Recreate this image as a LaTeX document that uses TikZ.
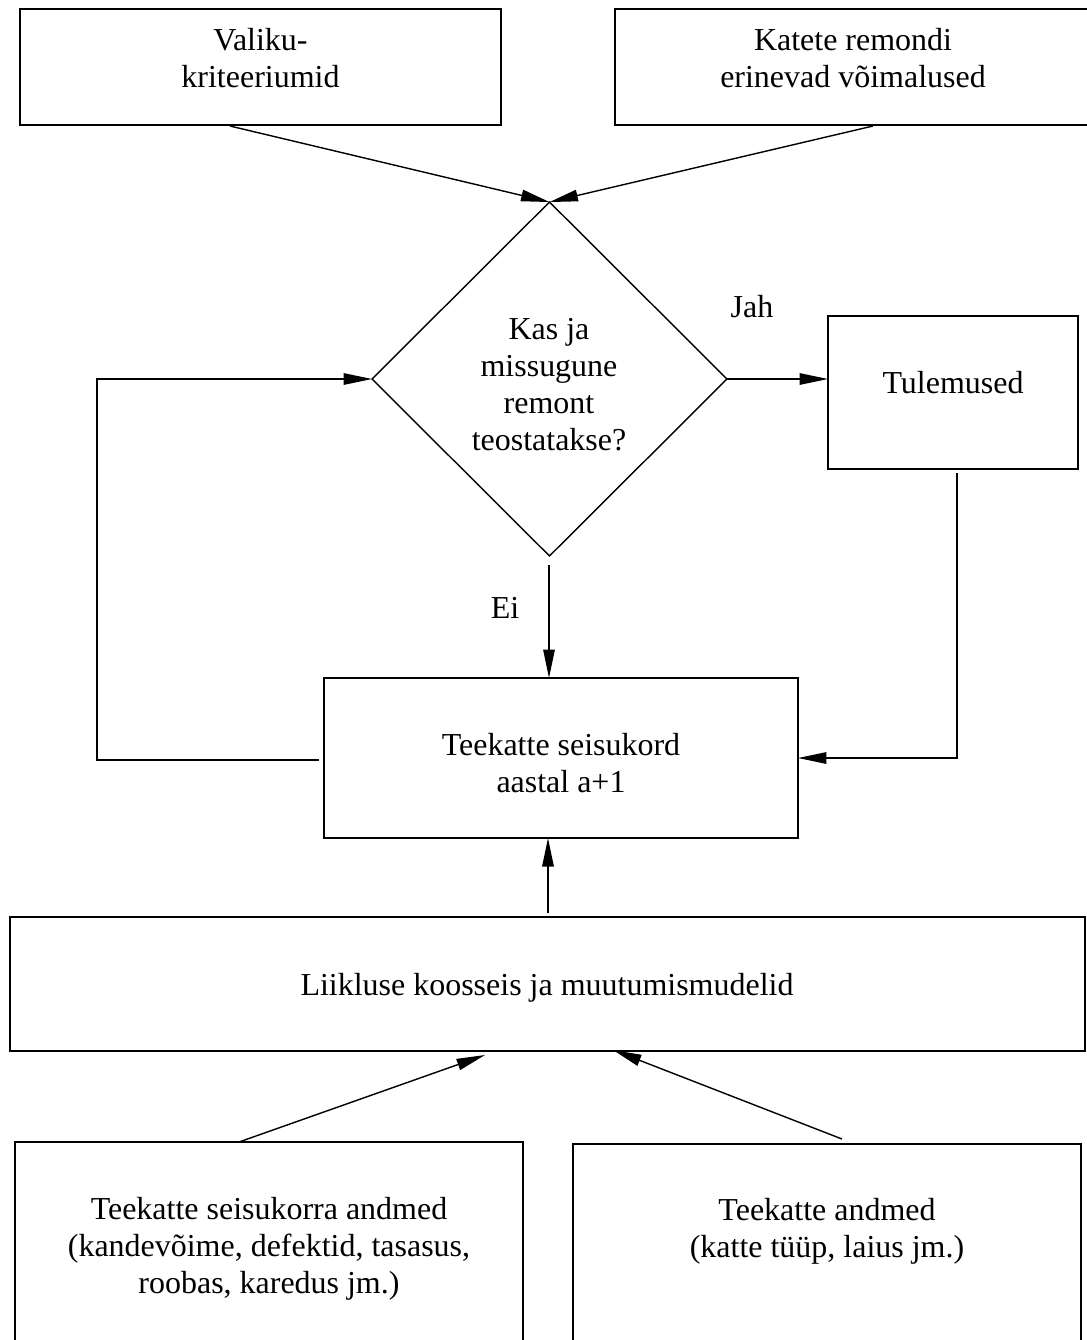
\documentclass[tikz,border=0pt]{standalone}
\usepackage{fontspec}
\setmainfont{Liberation Serif}
\usetikzlibrary{arrows.meta,shapes.geometric,calc}
\begin{document}
\begin{tikzpicture}[x=0.02cm,y=-0.02cm,
  box/.style={draw,line width=0.8pt,inner sep=0pt,outer sep=0pt},
  dia/.style={draw,line width=0.8pt,shape=diamond,inner sep=0pt,outer sep=0pt,minimum width=7.1cm,minimum height=7.08cm},
  txt/.style={align=center,inner sep=0pt,font=\fontsize{18.2pt}{21pt}\selectfont},
  arr/.style={line width=0.8pt,-{Triangle[length=0.57cm,width=0.23cm]}},
  ln/.style={line width=0.8pt}]
\useasboundingbox (0,0) rectangle (1087,1340);
% boxes
\node[box,minimum width=9.62cm,minimum height=2.32cm] (valiku) at (260.5,67) {};
\node[box,minimum width=9.52cm,minimum height=2.32cm] (katete) at (853,67) {};
\node[dia] (kas) at (549.5,379) {};
\node[box,minimum width=5.0cm,minimum height=3.06cm] (tul) at (953,392.5) {};
\node[box,minimum width=9.48cm,minimum height=3.2cm] (tee) at (561,758) {};
\node[box,minimum width=21.5cm,minimum height=2.68cm] (liik) at (547.5,984) {};
\node[box,minimum width=10.16cm,minimum height=4.16cm] (bl) at (269,1246) {};
\node[box,minimum width=10.16cm,minimum height=4.12cm] (br) at (827,1247) {};
% texts
\node[txt] (valikut) at (260.5,58) {Valiku-\\kriteeriumid};
\node[txt] (katetet) at (853,58) {Katete remondi\\erinevad võimalused};
\node[txt] (kast) at (549,384.5) {Kas ja\\missugune\\remont\\teostatakse?};
\node[txt] (tult) at (953,382.5) {Tulemused};
\node[txt] (teet) at (561,763) {Teekatte seisukord\\aastal a+1};
\node[txt] (liikt) at (547,988) {Liikluse koosseis ja muutumismudelid};
\node[txt] (blt) at (269,1248.5) {Teekatte seisukorra andmed\\(kandevõime, defektid, tasasus,\\roobas, karedus jm.)};
\node[txt] (brt) at (827,1231.5) {Teekatte andmed\\(katte tüüp, laius jm.)};
\node[txt] (jah) at (752,306.5) {Jah};
\node[txt] (ei) at (505,607.5) {Ei};
% helper coordinates
\coordinate (valout) at (230,126);
\coordinate (katout) at (873,126);
\coordinate (tulout) at (957,473);
\coordinate (teeout) at (319,760);
\coordinate (loop) at (97,379);
\coordinate (liikout) at (548,913);
\coordinate (teein) at (548,838);
\coordinate (blout) at (239,1142);
\coordinate (liikin1) at (485,1055);
\coordinate (brout) at (842,1139);
\coordinate (liikin2) at (613,1050);
\coordinate (eiout) at (549,565);
% connectors
\draw[arr] (valout) -- (kas.north);
\draw[arr] (katout) -- (kas.north);
\draw[arr] (kas.east) -- (kas.east -| tul.west);
\draw[arr] (eiout) -- (eiout |- tee.north);
\draw[arr] (tulout) |- (tee.east);
\draw[arr] (teeout) -| (loop) -- (kas.west);
\draw[arr] (liikout) -- (teein);
\draw[arr] (blout) -- (liikin1);
\draw[arr] (brout) -- (liikin2);
\end{tikzpicture}
\end{document}
